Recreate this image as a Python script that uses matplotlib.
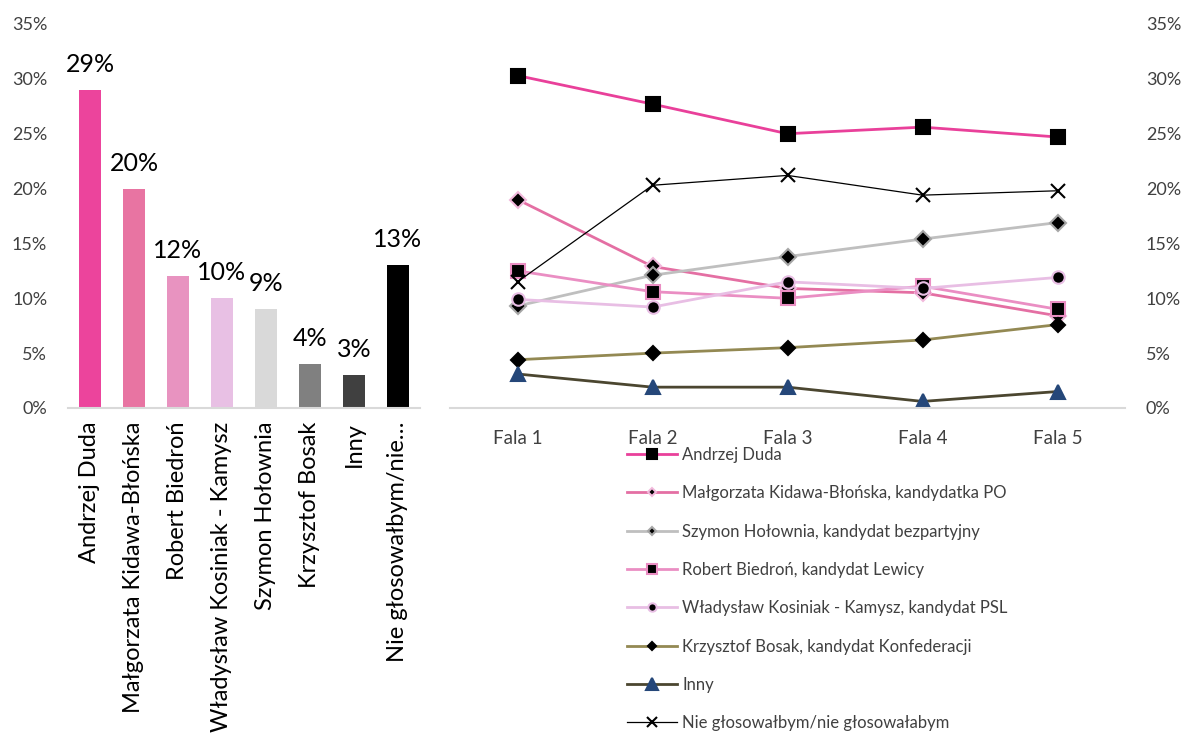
import matplotlib
matplotlib.use("Agg")
import matplotlib.pyplot as plt
from matplotlib.lines import Line2D
from matplotlib.ticker import PercentFormatter

plt.rcParams["font.family"] = ["Lato", "DejaVu Sans"]

# bar chart data
bar_labels = ["Andrzej Duda", "Małgorzata Kidawa-Błońska", "Robert Biedroń",
              "Władysław Kosiniak - Kamysz", "Szymon Hołownia", "Krzysztof Bosak",
              "Inny", "Nie głosowałbym/nie…"]
bar_values = [29, 20, 12, 10, 9, 4, 3, 13]
bar_colors = ["#EC449C", "#E874A2", "#E893C0", "#E8C0E4",
              "#D9D9D9", "#808080", "#404040", "#000000"]

# line chart data (waves)
waves = ["Fala 1", "Fala 2", "Fala 3", "Fala 4", "Fala 5"]
duda = [30.3, 27.7, 25.0, 25.6, 24.7]
kidawa = [19.0, 12.9, 10.9, 10.5, 8.4]
holownia = [9.3, 12.1, 13.8, 15.4, 16.9]
biedron = [12.5, 10.6, 10.0, 11.1, 9.0]
kosiniak = [9.9, 9.2, 11.5, 10.9, 11.9]
bosak = [4.4, 5.0, 5.5, 6.2, 7.6]
inny = [3.1, 1.9, 1.9, 0.6, 1.5]
nie = [11.5, 20.3, 21.2, 19.4, 19.8]

series = [
    ("Andrzej Duda", duda),
    ("Małgorzata Kidawa-Błońska, kandydatka PO", kidawa),
    ("Szymon Hołownia, kandydat bezpartyjny", holownia),
    ("Robert Biedroń, kandydat Lewicy", biedron),
    ("Władysław Kosiniak - Kamysz, kandydat PSL", kosiniak),
    ("Krzysztof Bosak, kandydat Konfederacji", bosak),
    ("Inny", inny),
    ("Nie głosowałbym/nie głosowałabym", nie),
]

# line colour, line width, marker, marker face, marker edge, marker size, legend marker size
styles = [
    ("#E9409A", 2.0, "s", "black", "black", 9.5, 7),
    ("#E46FA3", 2.0, "D", "black", "#F2B9DC", 8, 4.5),
    ("#BFBFBF", 2.0, "D", "black", "#A6A6A6", 8, 4.5),
    ("#EA8EC3", 2.0, "s", "black", "#EA8EC3", 9.5, 7),
    ("#E8BEE4", 2.0, "o", "black", "#E8BEE4", 9, 6),
    ("#938953", 2.0, "D", "black", "black", 7.5, 4.5),
    ("#4B4630", 2.0, "^", "#254779", "#254779", 10, 8),
    ("black", 0.9, "x", "black", "black", 10, 7),
]

tick_color = "#404040"
axis_color = "#D9D9D9"

fig = plt.figure(figsize=(11.83, 7.33), dpi=100)

# left: bar chart
ax1 = fig.add_axes([68 / 1183, 1 - 408 / 733, 352 / 1183, 384 / 733])
x = range(len(bar_values))
bars = ax1.bar(x, bar_values, width=0.52, color=bar_colors)
ax1.bar_label(bars, labels=[f"{v}%" for v in bar_values], padding=10, fontsize=18)
ax1.set_xlim(-0.5, len(bar_values) - 0.5)
ax1.set_ylim(0, 35)
ax1.set_yticks(range(0, 36, 5))
ax1.yaxis.set_major_formatter(PercentFormatter(decimals=0))
ax1.set_xticks(list(x))
ax1.set_xticklabels(bar_labels, rotation=90, fontsize=17, va="top")
ax1.tick_params(axis="x", length=0, pad=10)
ax1.tick_params(axis="y", length=0, pad=15, labelsize=13, labelcolor=tick_color)
for s in ["top", "right", "left"]:
    ax1.spines[s].set_visible(False)
ax1.spines["bottom"].set_color(axis_color)
ax1.spines["bottom"].set_linewidth(1.5)

# right: line chart
ax2 = fig.add_axes([450 / 1183, 1 - 408 / 733, 675 / 1183, 384 / 733])
xs = range(len(waves))
for (name, vals), (lc, lw, mk, mf, me, ms, _) in zip(series, styles):
    ax2.plot(xs, vals, color=lc, linewidth=lw, marker=mk, markerfacecolor=mf,
             markeredgecolor=me, markersize=ms, markeredgewidth=1.5, label=name)
ax2.set_xlim(-0.5, len(waves) - 0.5)
ax2.set_ylim(0, 35)
ax2.set_yticks(range(0, 36, 5))
ax2.yaxis.set_major_formatter(PercentFormatter(decimals=0))
ax2.yaxis.tick_right()
ax2.set_xticks(list(xs))
ax2.set_xticklabels(waves)
ax2.tick_params(axis="x", length=0, pad=16, labelsize=13.5, labelcolor=tick_color)
ax2.tick_params(axis="y", length=0, pad=15, labelsize=13, labelcolor=tick_color)
for s in ["top", "right", "left"]:
    ax2.spines[s].set_visible(False)
ax2.spines["bottom"].set_color(axis_color)
ax2.spines["bottom"].set_linewidth(1.5)

handles = []
for (name, _), (lc, lw, mk, mf, me, ms, lms) in zip(series, styles):
    handles.append(Line2D([], [], color=lc, linewidth=lw, marker=mk, markerfacecolor=mf,
                          markeredgecolor=me, markersize=lms, markeredgewidth=1.5))
fig.legend(handles, [n for n, _ in series], loc="upper left",
           bbox_to_anchor=(627 / 1183, 1 - 447 / 733), frameon=False,
           fontsize=12, handlelength=3.0, handletextpad=0.3,
           labelspacing=1.34, borderpad=0, borderaxespad=0, labelcolor=tick_color)

fig.savefig("out.png", dpi=100)
